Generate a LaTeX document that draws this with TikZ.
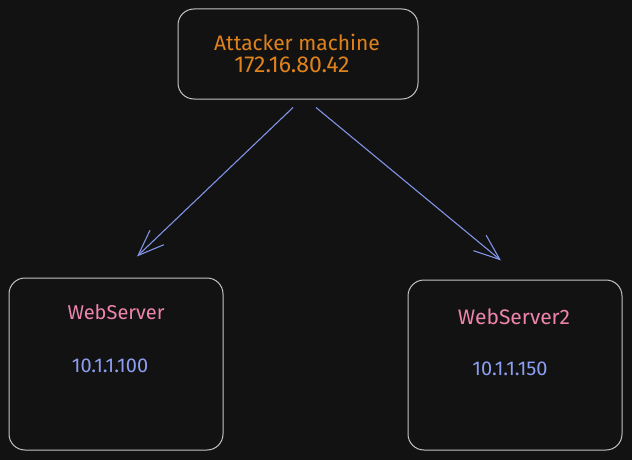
\documentclass[tikz,border=0pt]{standalone}
\usepackage{fontspec}
\setmainfont{Fira Sans}
\usetikzlibrary{arrows.meta}
\definecolor{bg}{HTML}{121212}
\definecolor{frame}{HTML}{C4C4C4}
\definecolor{orangetxt}{HTML}{E0821C}
\definecolor{pinktxt}{HTML}{EE84AC}
\definecolor{bluetxt}{HTML}{8C9EF0}
\definecolor{arrowc}{HTML}{8093E6}
\tikzset{
  box/.style={draw=frame, line width=1pt, rounded corners=16pt, fill=bg, inner sep=0pt},
  lbl/.style={font=\fontsize{20}{22}\selectfont, inner sep=0pt},
  conn/.style={draw=arrowc, line width=1.1pt, -{Straight Barb[length=26pt,width=20pt,line width=1.1pt]}}
}
\begin{document}
\begin{tikzpicture}[x=1pt,y=-1pt]
\fill[bg] (0,0) rectangle (632,460);
\useasboundingbox (0,0) rectangle (632,460);
\node[box, minimum width=240pt, minimum height=90pt] (att) at (298,54) {};
\node[box, minimum width=214pt, minimum height=172pt] (ws1) at (116,364) {};
\node[box, minimum width=214pt, minimum height=170pt] (ws2) at (515,365) {};
\node[lbl, text=orangetxt, font=\fontsize{21}{23}\selectfont] (attname) at (297,42) {Attacker machine};
\node[lbl, text=orangetxt, font=\fontsize{23}{25}\selectfont] (attip) at (292,65) {172.16.80.42};
\node[lbl, text=pinktxt] (ws1name) at (116,312) {WebServer};
\node[lbl, text=bluetxt] (ws1ip) at (110,366) {10.1.1.100};
\node[lbl, text=pinktxt, font=\fontsize{21}{23}\selectfont] (ws2name) at (514,317) {WebServer2};
\node[lbl, text=bluetxt] (ws2ip) at (510,369) {10.1.1.150};
\coordinate (s1) at ([xshift=-5pt,yshift=-8pt]att.south);
\coordinate (s2) at ([xshift=18pt,yshift=-8pt]att.south);
\coordinate (e1) at ([xshift=21pt,yshift=21pt]ws1.north);
\coordinate (e2) at ([xshift=-14pt,yshift=19pt]ws2.north);
\draw[conn] (s1) -- (e1);
\draw[conn] (s2) -- (e2);
\end{tikzpicture}
\end{document}
